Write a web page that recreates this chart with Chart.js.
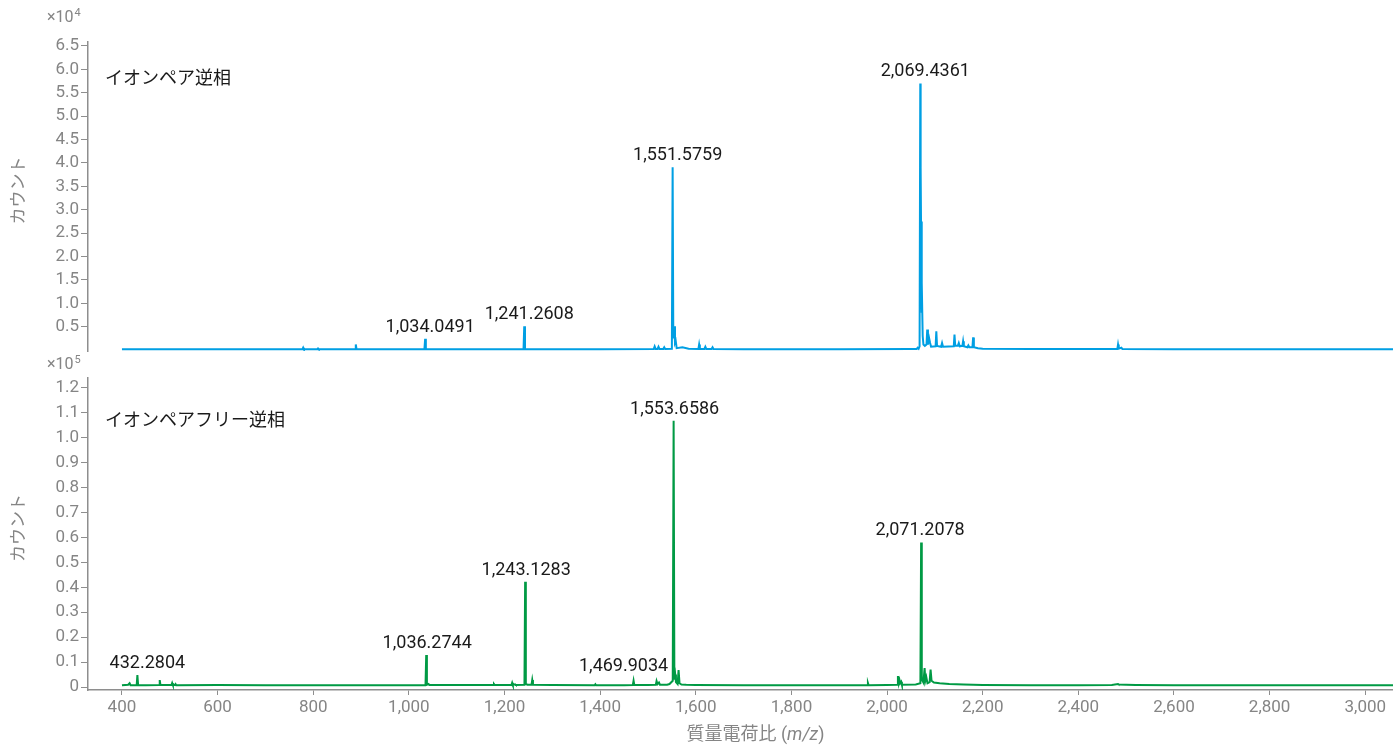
<!DOCTYPE html>
<html>
<head>
<meta charset="utf-8">
<title>質量スペクトル</title>
<script src="https://cdn.jsdelivr.net/npm/chart.js@4.4.1/dist/chart.umd.min.js"></script>
<style>
  html, body { margin: 0; padding: 0; background: #fff; }
  #wrap { position: relative; width: 1393px; height: 745px; overflow: hidden; }
  canvas { position: absolute; left: 0; }
  #topChart { top: 0; }
  #bottomChart { top: 355px; }
</style>
</head>
<body>
<div id="wrap">
  <canvas id="topChart" width="1393" height="370"></canvas>
  <canvas id="bottomChart" width="1393" height="390"></canvas>
</div>
<script>
// イオンペア逆相 (m/z, counts)
const mzTop = [
  400, 520, 640, 700,
  777.5, 779, 780.5, 808.5, 810, 811.5, 887.5, 889, 890.5,
  1032.5, 1034.0491, 1035.5, 1180,
  1239.8, 1241.2608, 1242.8, 1400,
  1512, 1514, 1516, 1520, 1522, 1524, 1532, 1534, 1536,
  1550, 1551.5759, 1553, 1555, 1556.5, 1558, 1560, 1572, 1585,
  1605.5, 1607, 1608.5, 1618, 1620, 1622, 1633, 1635, 1637,
  1700, 1900, 2050, 2062, 2064, 2066, 2068,
  2069.4361, 2070.2, 2071, 2072, 2073, 2074.5, 2076,
  2079, 2082.5, 2084, 2085.5, 2088, 2090, 2092,
  2101.5, 2103, 2104.5, 2113, 2115, 2117,
  2139.5, 2141, 2142.5, 2148, 2150, 2152,
  2157.5, 2159, 2160.5, 2168, 2170, 2172,
  2178.5, 2180, 2181.5, 2190, 2200, 2300,
  2481.5, 2483, 2484.5, 2490, 2492,
  2600, 2800, 3000, 3058
];
const countTop = [
  150, 180, 160, 170,
  170, 500, 170, 170, 350, 170, 170, 1200, 170,
  180, 2400, 180, 200,
  200, 5100, 220, 200,
  220, 800, 250, 250, 700, 250, 250, 600, 250,
  300, 39100, 2500, 5100, 1600, 2000, 400, 600, 300,
  250, 1200, 250, 250, 700, 250, 250, 600, 220,
  200, 200, 250, 250, 500, 300, 800,
  57000, 39000, 27500, 8000, 14400, 3000, 1200,
  900, 1200, 4400, 1200, 2500, 1500, 700,
  800, 4000, 900, 700, 1500, 700,
  800, 3300, 900, 900, 1500, 800,
  900, 1900, 800, 600, 1000, 600,
  600, 2700, 600, 400, 300, 250,
  220, 1200, 300, 500, 250,
  200, 180, 170, 160
];

// イオンペアフリー逆相 (m/z, counts)
const mzBottom = [
  400, 413, 416, 418, 425,
  430.8, 432.2804, 433.8, 450, 477.5, 479, 480.5,
  503.5, 505, 506.5, 510.5, 512, 513.5,
  600, 700, 800, 900, 1000,
  1034.8, 1036.2744, 1037.7, 1041, 1043,
  1150, 1176.5, 1178, 1179.5,
  1214.5, 1216, 1217.5, 1222, 1224,
  1241.7, 1243.1283, 1244.6, 1248, 1256.5, 1258, 1259.5,
  1300, 1388.5, 1390, 1391.5,
  1450, 1468.4, 1469.9034, 1471.4,
  1500, 1516.5, 1518, 1520, 1523, 1525,
  1540, 1545, 1551.8, 1553.6586, 1555.2, 1557, 1558.5, 1562, 1564, 1566, 1570, 1580, 1600,
  1700, 1800, 1900, 1958.5, 1960, 1961.5,
  2000, 2021, 2022.7, 2024.5, 2026, 2027.5, 2029.5, 2031,
  2060, 2069.7, 2071.2078, 2072.6, 2076, 2078.5, 2080, 2082, 2084.5,
  2089, 2091, 2093, 2098, 2110, 2130, 2160,
  2200, 2300, 2400, 2470, 2483, 2485, 2500, 2520,
  2600, 2800, 3000, 3058
];
const countBottom = [
  700, 900, 1500, 700, 700,
  700, 4800, 800, 700, 800, 2800, 800,
  800, 1600, 800, 800, 1200, 700,
  800, 700, 700, 700, 700,
  800, 12800, 900, 1200, 800,
  800, 800, 1200, 800,
  800, 1700, 800, 1100, 800,
  900, 42200, 1200, 900, 900, 2800, 900,
  800, 700, 1100, 700,
  700, 800, 2500, 800,
  800, 900, 2400, 1200, 1800, 900,
  900, 1200, 2500, 106800, 3000, 5000, 2000, 1200, 6800, 1500, 1000, 900, 800,
  700, 700, 700, 700, 1600, 700,
  800, 900, 4400, 1500, 2800, 1500, 2100, 900,
  1000, 1500, 58000, 3000, 1800, 7600, 2500, 4000, 1500,
  2000, 7000, 2500, 1800, 1500, 1200, 1000,
  800, 700, 700, 800, 1200, 1000, 900, 800,
  700, 700, 700, 700
];

// annotated peaks
const topPeakLabels = [1034.0491, 1241.2608, 1551.5759, 2069.4361];
const bottomPeakLabels = [432.2804, 1036.2744, 1243.1283, 1469.9034, 1553.6586, 2071.2078];

// tick values
const xTicks = [400, 600, 800, 1000, 1200, 1400, 1600, 1800, 2000, 2200, 2400, 2600, 2800, 3000];
const topTicks = [5000, 10000, 15000, 20000, 25000, 30000, 35000, 40000, 45000, 50000, 55000, 60000, 65000];
const bottomTicks = [0, 10000, 20000, 30000, 40000, 50000, 60000, 70000, 80000, 90000, 100000, 110000, 120000];

const FONT = 'Roboto, "Noto Sans CJK JP", sans-serif';
const GREY = '#858585';
const AXIS = '#8e8e8e';
const BLUE = '#009fe3';
const GREEN = '#009a44';

Chart.defaults.font.family = FONT;
Chart.defaults.font.size = 17;
Chart.defaults.color = GREY;

function toPoints(xs, ys) {
  return xs.map((x, i) => ({ x: x, y: ys[i] }));
}

function fmtMz(v) {
  return v.toLocaleString('en-US', { minimumFractionDigits: 4, maximumFractionDigits: 4 });
}

// panel name, peak labels, exponent and y title
const panelText = {
  id: 'panelText',
  afterDraw(chart, args, o) {
    const { ctx, chartArea, scales } = chart;
    ctx.save();

    ctx.fillStyle = '#1a1a1a';
    ctx.font = '18px ' + FONT;
    ctx.textAlign = 'left';
    ctx.textBaseline = 'middle';
    ctx.fillText(o.name, 105, o.nameY);

    ctx.textAlign = 'center';
    ctx.textBaseline = 'alphabetic';
    o.peaks.forEach((mz, i) => {
      const idx = o.mz.indexOf(mz);
      const px = scales.x.getPixelForValue(mz);
      const py = scales.y.getPixelForValue(o.counts[idx]);
      ctx.fillText(fmtMz(mz), px + (o.dx[i] || 0), py - 7 + (o.dy[i] || 0));
    });

    // ×10^n
    ctx.fillStyle = GREY;
    ctx.textAlign = 'left';
    ctx.textBaseline = 'middle';
    ctx.font = '16px ' + FONT;
    ctx.fillText('×10', 47, o.expY);
    const w = ctx.measureText('×10').width;
    ctx.font = '11px ' + FONT;
    ctx.fillText(o.exp, 47 + w + 1, o.expY - 5);

    // y title
    ctx.font = '17px ' + FONT;
    ctx.textAlign = 'center';
    ctx.translate(20, (chartArea.top + chartArea.bottom) / 2 - 6);
    ctx.rotate(-Math.PI / 2);
    ctx.fillText('カウント', 0, 0);
    ctx.restore();

    if (o.xTitle) {
      ctx.save();
      ctx.fillStyle = GREY;
      ctx.textBaseline = 'middle';
      const parts = [
        ['質量電荷比 (', '18px ' + FONT],
        ['m/z', 'italic 18px ' + FONT],
        [')', '18px ' + FONT]
      ];
      let total = 0;
      parts.forEach(p => { ctx.font = p[1]; total += ctx.measureText(p[0]).width; });
      let x = (chartArea.left + chartArea.right) / 2 + 15 - total / 2;
      ctx.textAlign = 'left';
      parts.forEach(p => {
        ctx.font = p[1];
        ctx.fillText(p[0], x, o.xTitleY);
        x += ctx.measureText(p[0]).width;
      });
      ctx.restore();
    }
  }
};

function yScale(min, max, ticks, fmt) {
  return {
    type: 'linear',
    min: min,
    max: max,
    afterFit(scale) { scale.width = 88; },
    afterBuildTicks(scale) { scale.ticks = ticks.map(v => ({ value: v })); },
    grid: { drawOnChartArea: false, drawTicks: true, tickLength: 7, color: AXIS },
    border: { display: true, color: AXIS, width: 1.5 },
    ticks: { padding: 2, color: GREY, font: { size: 17 }, autoSkip: false, callback: fmt }
  };
}

function xScale(show) {
  return {
    type: 'linear',
    min: 329,
    max: 3058,
    display: show,
    afterFit(scale) { scale.height = show ? 55 : 0; },
    afterBuildTicks(scale) { scale.ticks = xTicks.map(v => ({ value: v })); },
    grid: { drawOnChartArea: false, drawTicks: true, tickLength: 5, color: AXIS },
    border: { display: true, color: AXIS, width: 1.5 },
    ticks: {
      padding: 3, color: GREY, font: { size: 17 }, maxRotation: 0, autoSkip: false,
      callback: v => v.toLocaleString('en-US')
    }
  };
}

const common = {
  responsive: false,
  animation: false,
  events: [],
  plugins: { legend: { display: false }, tooltip: { enabled: false } },
  elements: { point: { radius: 0 }, line: { tension: 0 } }
};

new Chart(document.getElementById('topChart'), {
  type: 'line',
  data: {
    datasets: [{
      data: toPoints(mzTop, countTop),
      borderColor: BLUE,
      borderWidth: 2,
      fill: false
    }]
  },
  options: Object.assign({}, common, {
    layout: { padding: { top: 42, bottom: 19, left: 0, right: 0 } },
    scales: {
      x: xScale(false),
      y: yScale(-200, 65850, topTicks, v => (v / 1e4).toFixed(1))
    },
    plugins: Object.assign({}, common.plugins, {
      panelText: {
        name: 'イオンペア逆相', nameY: 79,
        mz: mzTop, counts: countTop, peaks: topPeakLabels,
        dx: [5, 5, 5, 5], dy: [],
        exp: '4', expY: 18
      }
    })
  }),
  plugins: [panelText]
});

new Chart(document.getElementById('bottomChart'), {
  type: 'line',
  data: {
    datasets: [{
      data: toPoints(mzBottom, countBottom),
      borderColor: GREEN,
      borderWidth: 2,
      fill: false
    }]
  },
  options: Object.assign({}, common, {
    layout: { padding: { top: 23, bottom: 0, left: 0, right: 0 } },
    scales: {
      x: xScale(true),
      y: yScale(-1200, 124000, bottomTicks, v => v === 0 ? '0' : (v / 1e5).toFixed(1))
    },
    plugins: Object.assign({}, common.plugins, {
      panelText: {
        name: 'イオンペアフリー逆相', nameY: 66,
        mz: mzBottom, counts: countBottom, peaks: bottomPeakLabels,
        dx: [10, 1, 1, -10, 1, -1], dy: [0, 0, 0, -3, 0, 0],
        exp: '5', expY: 10,
        xTitle: true, xTitleY: 380
      }
    })
  }),
  plugins: [panelText]
});
</script>
</body>
</html>
